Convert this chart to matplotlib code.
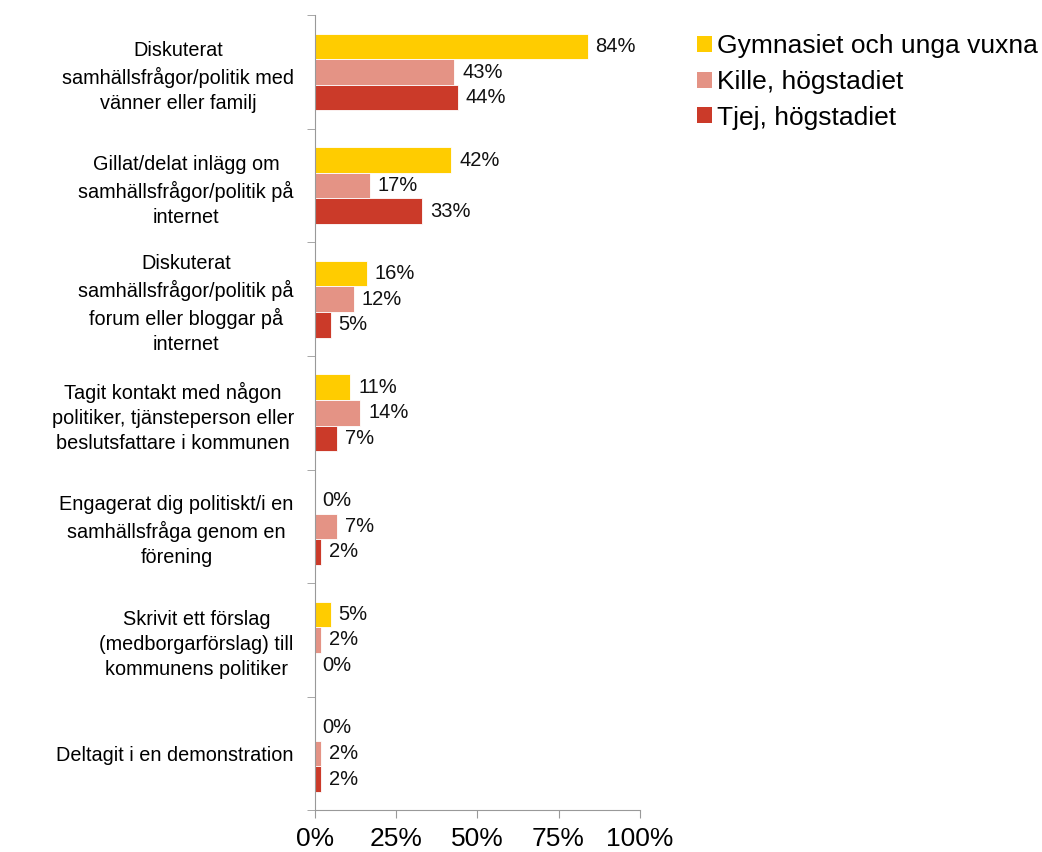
import numpy as np
import matplotlib
matplotlib.use('Agg')
import matplotlib.pyplot as plt
from matplotlib.patches import Patch

plt.rcParams['font.family'] = ['Liberation Sans', 'DejaVu Sans']

categories = [
    'Diskuterat\nsamhällsfrågor/politik med\nvänner eller familj',
    'Gillat/delat inlägg om\nsamhällsfrågor/politik på\ninternet',
    'Diskuterat\nsamhällsfrågor/politik på\nforum eller bloggar på\ninternet',
    'Tagit kontakt med någon\npolitiker, tjänsteperson eller\nbeslutsfattare i kommunen',
    'Engagerat dig politiskt/i en\nsamhällsfråga genom en\nförening',
    'Skrivit ett förslag\n(medborgarförslag) till\nkommunens politiker',
    'Deltagit i en demonstration',
]
series_names = ['Gymnasiet och unga vuxna', 'Kille, högstadiet', 'Tjej, högstadiet']
gymnasiet = [84, 42, 16, 11, 0, 5, 0]
kille = [43, 17, 12, 14, 7, 2, 2]
tjej = [44, 33, 5, 7, 2, 0, 2]
colors = ['#FFCC00', '#E49385', '#CB3A29']

fig = plt.figure(figsize=(10.42, 8.52), dpi=100)
ax = fig.add_axes([0.302, 0.049, 0.312, 0.933])

n = len(categories)
y = np.arange(n)
h = 0.225
offsets = [-h, 0, h]
for vals, off, col in zip([gymnasiet, kille, tjej], offsets, colors):
    ax.barh(y + off, vals, height=h, color=col, edgecolor='white', linewidth=0.6)
    for yy, v in zip(y + off, vals):
        ax.text(v + 2.4, yy, '%d%%' % v, va='center', ha='left', fontsize=14.5, color='#111111')

ax.set_xlim(0, 100)
ax.set_ylim(n - 0.5, -0.5)
ax.set_xticks([0, 25, 50, 75, 100])
ax.set_xticklabels(['0%', '25%', '50%', '75%', '100%'], fontsize=19)
ax.set_yticks(y)
ax.set_yticklabels(categories, fontsize=14.3, multialignment='center', linespacing=1.4,
                   va='center_baseline')
ax.set_yticks(np.arange(n + 1) - 0.5, minor=True)
ax.tick_params(axis='y', which='major', length=0, pad=15)
ax.tick_params(axis='y', which='minor', length=6, color='#999999', direction='out')
ax.tick_params(axis='x', length=6, color='#999999', direction='out', pad=6)

for side in ['top', 'right']:
    ax.spines[side].set_visible(False)
for side in ['left', 'bottom']:
    ax.spines[side].set_color('#999999')

handles = [Patch(facecolor=c, edgecolor='none') for c in colors]
fig.legend(handles, series_names, loc='upper left', bbox_to_anchor=(0.659, 0.972),
           frameon=False, fontsize=19, handlelength=0.55, handleheight=0.55,
           handletextpad=0.2, labelspacing=0.44, borderaxespad=0)

fig.savefig('out.png', dpi=100)
